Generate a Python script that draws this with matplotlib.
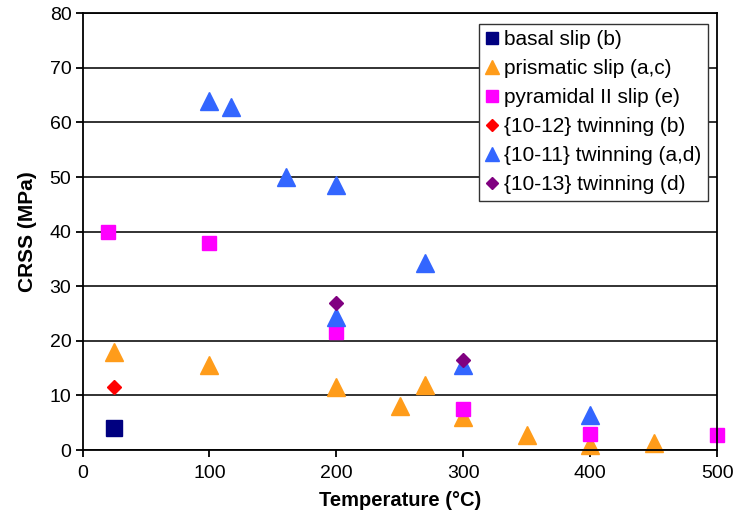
import numpy as np
import matplotlib.pyplot as plt

plt.rcParams['font.family'] = ['Liberation Sans', 'DejaVu Sans']

# data
basal_T = [25]
basal_crss = [4]
prism_T = [25, 100, 200, 250, 270, 300, 350, 400, 450]
prism_crss = [18, 15.5, 11.5, 8, 12, 6, 2.8, 1, 1.2]
pyr_T = [20, 100, 200, 300, 400, 500]
pyr_crss = [40, 38, 21.7, 7.5, 3, 2.8]
tw1012_T = [25]
tw1012_crss = [11.5]
tw1011_T = [100, 117, 160, 200, 270, 200, 300, 400]
tw1011_crss = [63.9, 62.9, 50, 48.5, 34.2, 24.4, 15.5, 6.5]
tw1013_T = [200, 300]
tw1013_crss = [27, 16.5]

fig = plt.figure(figsize=(7.37, 5.12), dpi=100)
ax = fig.add_axes([0.112, 0.121, 0.861, 0.853])

ax.plot(basal_T, basal_crss, 's', color='#000080', ms=11, label='basal slip (b)', clip_on=False)
ax.plot(prism_T, prism_crss, '^', color='#FF9C1A', ms=12.5, label='prismatic slip (a,c)', clip_on=False)
ax.plot(pyr_T, pyr_crss, 's', color='#FF00FF', ms=10.5, label='pyramidal II slip (e)', clip_on=False)
ax.plot(tw1012_T, tw1012_crss, 'D', color='#FF0000', ms=7.5, label='{10-12} twinning (b)', clip_on=False)
ax.plot(tw1011_T, tw1011_crss, '^', color='#3366FF', ms=12.5, label='{10-11} twinning (a,d)', clip_on=False)
ax.plot(tw1013_T, tw1013_crss, 'D', color='#800080', ms=7.5, label='{10-13} twinning (d)', clip_on=False)

ax.set_xlim(0, 500)
ax.set_ylim(0, 80)
ax.set_xticks(np.arange(0, 501, 100))
ax.set_yticks(np.arange(0, 81, 10))
ax.yaxis.grid(True, color='#222222', lw=1.3)
ax.set_axisbelow(True)
for s in ax.spines.values():
    s.set_linewidth(1.3)
ax.tick_params(labelsize=14, length=5, width=1.3, pad=3)
ax.tick_params(axis='x', pad=6)
ax.set_xlabel('Temperature (°C)', fontsize=14.5, fontweight='bold', labelpad=6)
ax.set_ylabel('CRSS (MPa)', fontsize=15, fontweight='bold', labelpad=9)

leg = ax.legend(loc='upper right', bbox_to_anchor=(0.985, 0.975), borderaxespad=0, fontsize=15,
                frameon=True, fancybox=False, edgecolor='#333333', framealpha=1, handlelength=0.6,
                handletextpad=0.3, borderpad=0.3, labelspacing=0.48, markerscale=0.85)
leg.get_frame().set_linewidth(1)

fig.savefig('out.png', dpi=100)
